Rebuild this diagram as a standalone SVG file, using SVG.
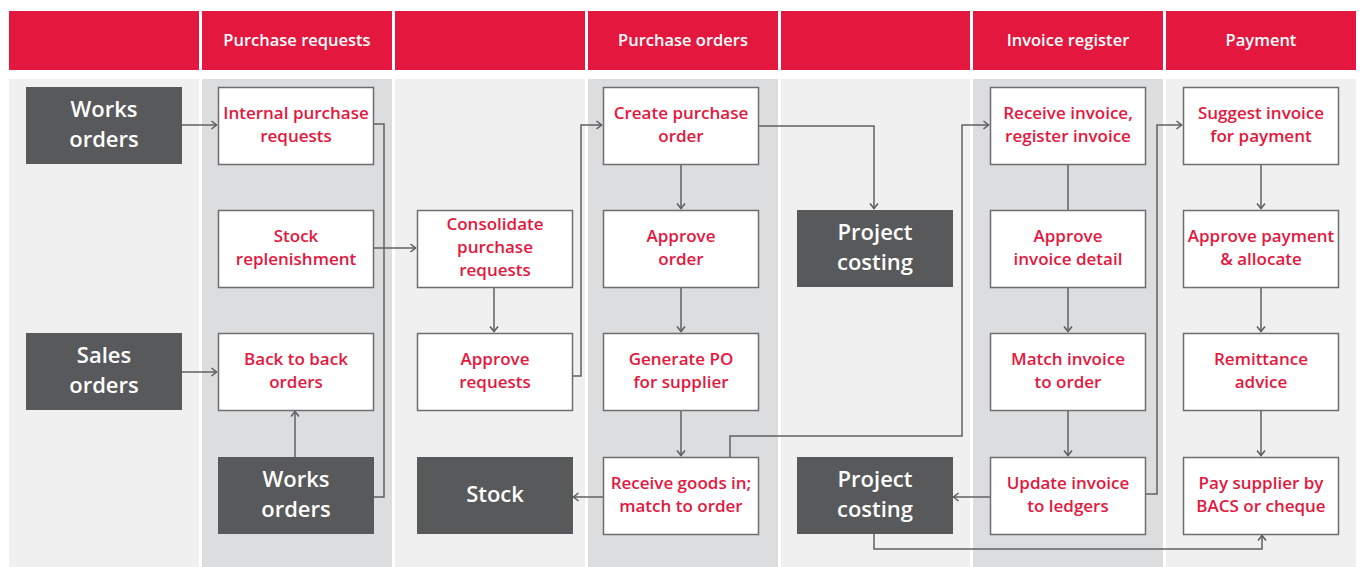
<svg xmlns="http://www.w3.org/2000/svg" width="1361" height="567" viewBox="0 0 1361 567">
  <style>
    .hdr { fill: #e4173e; }
    .lane-a { fill: #f0f0f0; }
    .lane-b { fill: #dcdddf; }
    .hdr-text { font-family: "Open Sans", "Noto Sans", sans-serif; font-size: 16.5px; font-weight: 600; fill: #ffffff; text-anchor: middle; }
    .step rect { fill: #ffffff; stroke: #6d6e70; stroke-width: 1.5; }
    .step text { font-family: "Open Sans", "Noto Sans", sans-serif; font-size: 17px; font-weight: 600; fill: #e4173e; text-anchor: middle; }
    .ext rect { fill: #58595b; }
    .ext text { font-family: "Open Sans", "Noto Sans", sans-serif; font-size: 22px; font-weight: 600; fill: #ffffff; text-anchor: middle; }
    .links path { fill: none; stroke: #5f6062; stroke-width: 1.5; }
    .arrow { marker-end: url(#chev); }
  </style>
  <defs>
    <marker id="chev" markerUnits="userSpaceOnUse" viewBox="0 0 8 10" refX="7" refY="5" markerWidth="8" markerHeight="10" orient="auto">
      <path d="M1.5,1 L6.5,5 L1.5,9" fill="none" stroke="#5f6062" stroke-width="1.6"/>
    </marker>
  </defs>

  <rect width="1361" height="567" fill="#ffffff"/>

  <!-- swimlane headers -->
  <g id="headers">
    <rect class="hdr" x="9" y="11" width="190" height="59"/>
    <rect class="hdr" x="202" y="11" width="190" height="59"/>
    <rect class="hdr" x="395" y="11" width="190" height="59"/>
    <rect class="hdr" x="588" y="11" width="190" height="59"/>
    <rect class="hdr" x="781" y="11" width="189" height="59"/>
    <rect class="hdr" x="973" y="11" width="190" height="59"/>
    <rect class="hdr" x="1166" y="11" width="190" height="59"/>
    <text class="hdr-text" x="297" y="46">Purchase requests</text>
    <text class="hdr-text" x="683" y="46">Purchase orders</text>
    <text class="hdr-text" x="1068" y="46">Invoice register</text>
    <text class="hdr-text" x="1261" y="46">Payment</text>
  </g>

  <!-- swimlane bodies -->
  <g id="lanes">
    <rect class="lane-a" x="9" y="79" width="190" height="488"/>
    <rect class="lane-b" x="202" y="79" width="190" height="488"/>
    <rect class="lane-a" x="395" y="79" width="190" height="488"/>
    <rect class="lane-b" x="588" y="79" width="190" height="488"/>
    <rect class="lane-a" x="781" y="79" width="189" height="488"/>
    <rect class="lane-b" x="973" y="79" width="190" height="488"/>
    <rect class="lane-a" x="1166" y="79" width="190" height="488"/>
  </g>

  <!-- connectors -->
  <g id="connectors" class="links">
    <path class="arrow" d="M182,125 H217"/>
    <path d="M373,124 H384 V497 H374"/>
    <path class="arrow" d="M373,248 H416"/>
    <path class="arrow" d="M182,372 H217"/>
    <path class="arrow" d="M295,457 V411"/>
    <path class="arrow" d="M494,287 V332"/>
    <path class="arrow" d="M572,376 H581 V125 H602"/>
    <path class="arrow" d="M681,164 V209"/>
    <path class="arrow" d="M681,287 V332"/>
    <path class="arrow" d="M681,410 V456"/>
    <path class="arrow" d="M730,457 V436 H962 V125 H989"/>
    <path class="arrow" d="M603,497 H573"/>
    <path class="arrow" d="M758,126 H874 V209"/>
    <path d="M1068,164 V210"/>
    <path class="arrow" d="M1068,287 V332"/>
    <path class="arrow" d="M1068,410 V456"/>
    <path class="arrow" d="M990,497 H953"/>
    <path class="arrow" d="M1145,494 H1157 V125 H1182"/>
    <path class="arrow" d="M874,534 V549 H1262 V535"/>
    <path class="arrow" d="M1261,164 V209"/>
    <path class="arrow" d="M1261,287 V332"/>
    <path class="arrow" d="M1261,410 V456"/>
  </g>

  <!-- external sources and sinks -->
  <g id="works-orders-top" class="ext">
    <rect x="26" y="87" width="156" height="77"/>
    <text x="104" y="117">Works</text>
    <text x="104" y="147">orders</text>
  </g>
  <g id="sales-orders" class="ext">
    <rect x="26" y="333" width="156" height="77"/>
    <text x="104" y="363">Sales</text>
    <text x="104" y="393">orders</text>
  </g>
  <g id="works-orders-bottom" class="ext">
    <rect x="218" y="457" width="156" height="77"/>
    <text x="296" y="487">Works</text>
    <text x="296" y="517">orders</text>
  </g>
  <g id="stock" class="ext">
    <rect x="417" y="457" width="156" height="77"/>
    <text x="495" y="502">Stock</text>
  </g>
  <g id="project-costing-top" class="ext">
    <rect x="797" y="210" width="156" height="77"/>
    <text x="875" y="240">Project</text>
    <text x="875" y="270">costing</text>
  </g>
  <g id="project-costing-bottom" class="ext">
    <rect x="797" y="457" width="156" height="77"/>
    <text x="875" y="487">Project</text>
    <text x="875" y="517">costing</text>
  </g>

  <!-- purchase requests -->
  <g id="internal-requests" class="step">
    <rect x="218.5" y="87.5" width="155" height="77"/>
    <text x="296" y="119">Internal purchase</text>
    <text x="296" y="142">requests</text>
  </g>
  <g id="stock-replenishment" class="step">
    <rect x="218.5" y="210.5" width="155" height="77"/>
    <text x="296" y="242">Stock</text>
    <text x="296" y="265">replenishment</text>
  </g>
  <g id="back-to-back" class="step">
    <rect x="218.5" y="333.5" width="155" height="77"/>
    <text x="296" y="365">Back to back</text>
    <text x="296" y="388">orders</text>
  </g>
  <g id="consolidate" class="step">
    <rect x="417.5" y="210.5" width="155" height="77"/>
    <text x="495" y="230">Consolidate</text>
    <text x="495" y="253">purchase</text>
    <text x="495" y="276">requests</text>
  </g>
  <g id="approve-requests" class="step">
    <rect x="417.5" y="333.5" width="155" height="77"/>
    <text x="495" y="365">Approve</text>
    <text x="495" y="388">requests</text>
  </g>

  <!-- purchase orders -->
  <g id="create-po" class="step">
    <rect x="603.5" y="87.5" width="155" height="77"/>
    <text x="681" y="119">Create purchase</text>
    <text x="681" y="142">order</text>
  </g>
  <g id="approve-order" class="step">
    <rect x="603.5" y="210.5" width="155" height="77"/>
    <text x="681" y="242">Approve</text>
    <text x="681" y="265">order</text>
  </g>
  <g id="generate-po" class="step">
    <rect x="603.5" y="333.5" width="155" height="77"/>
    <text x="681" y="365">Generate PO</text>
    <text x="681" y="388">for supplier</text>
  </g>
  <g id="receive-goods" class="step">
    <rect x="603.5" y="457.5" width="155" height="77"/>
    <text x="681" y="489">Receive goods in;</text>
    <text x="681" y="512">match to order</text>
  </g>

  <!-- invoice register -->
  <g id="receive-invoice" class="step">
    <rect x="990.5" y="87.5" width="155" height="77"/>
    <text x="1068" y="119">Receive invoice,</text>
    <text x="1068" y="142">register invoice</text>
  </g>
  <g id="approve-invoice" class="step">
    <rect x="990.5" y="210.5" width="155" height="77"/>
    <text x="1068" y="242">Approve</text>
    <text x="1068" y="265">invoice detail</text>
  </g>
  <g id="match-invoice" class="step">
    <rect x="990.5" y="333.5" width="155" height="77"/>
    <text x="1068" y="365">Match invoice</text>
    <text x="1068" y="388">to order</text>
  </g>
  <g id="update-invoice" class="step">
    <rect x="990.5" y="457.5" width="155" height="77"/>
    <text x="1068" y="489">Update invoice</text>
    <text x="1068" y="512">to ledgers</text>
  </g>

  <!-- payment -->
  <g id="suggest-invoice" class="step">
    <rect x="1183.5" y="87.5" width="155" height="77"/>
    <text x="1261" y="119">Suggest invoice</text>
    <text x="1261" y="142">for payment</text>
  </g>
  <g id="approve-payment" class="step">
    <rect x="1183.5" y="210.5" width="155" height="77"/>
    <text x="1261" y="242">Approve payment</text>
    <text x="1261" y="265">&amp; allocate</text>
  </g>
  <g id="remittance" class="step">
    <rect x="1183.5" y="333.5" width="155" height="77"/>
    <text x="1261" y="365">Remittance</text>
    <text x="1261" y="388">advice</text>
  </g>
  <g id="pay-supplier" class="step">
    <rect x="1183.5" y="457.5" width="155" height="77"/>
    <text x="1261" y="489">Pay supplier by</text>
    <text x="1261" y="512">BACS or cheque</text>
  </g>
</svg>
